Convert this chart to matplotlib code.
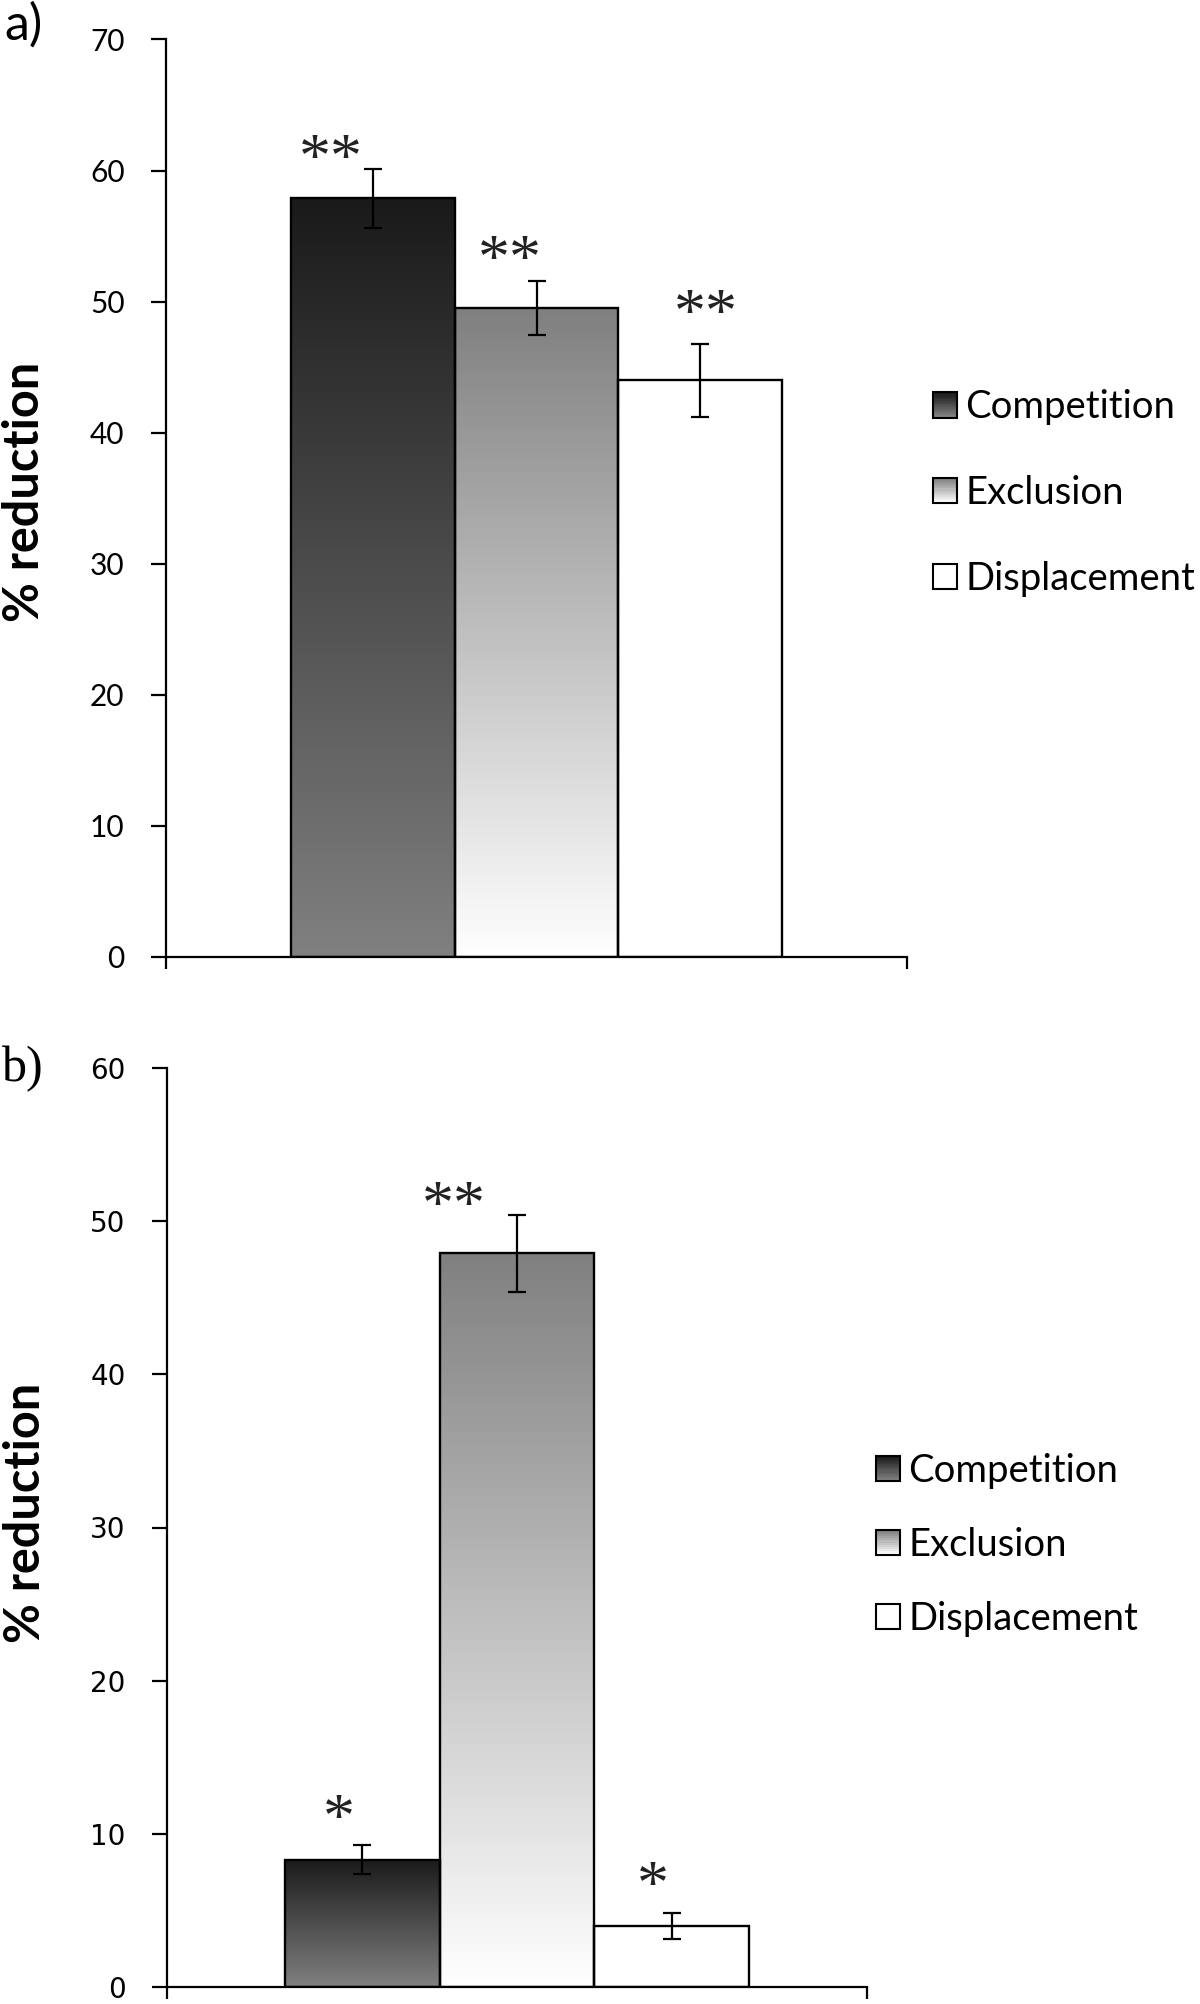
import numpy as np
import matplotlib
matplotlib.use("Agg")
import matplotlib.pyplot as plt
from matplotlib.colors import LinearSegmentedColormap
from matplotlib.patches import Rectangle
from matplotlib.legend_handler import HandlerBase

# ---------------- data ----------------
series = ["Competition", "Exclusion", "Displacement"]

a_values = [57.9, 49.5, 44.0]
a_errors = [2.25, 2.05, 2.8]
a_signif = ["**", "**", "**"]
a_yticks = [0, 10, 20, 30, 40, 50, 60, 70]

b_values = [8.3, 47.9, 4.0]
b_errors = [0.95, 2.5, 0.85]
b_signif = ["*", "**", "*"]
b_yticks = [0, 10, 20, 30, 40, 50, 60]

panel_labels = ["a)", "b)"]
ylabel_text = "% reduction"

# ---------------- style ----------------
W, H = 1200, 2004
DPI = 100
PX = 72.0 / DPI  # points per pixel

gradients = {
    "Competition": ("#1a1a1a", "#808080"),
    "Exclusion": ("#808080", "#ffffff"),
    "Displacement": ("#ffffff", "#ffffff"),
}

# star offsets (px) relative to error-bar top: (dx, dy to star centre)
a_star_off = [(-42, 14), (-27, 25), (6, 34)]
b_star_off = [(-23, 30), (-63, 13), (-19, 31)]

bar_w = 0.221
sans = ["Lato", "DejaVu Sans"]
serif = ["Liberation Serif", "DejaVu Serif"]


class GradHandler(HandlerBase):
    def __init__(self, top, bottom, n=12):
        super().__init__()
        self.top, self.bottom, self.n = top, bottom, n

    def create_artists(self, legend, orig_handle, xdescent, ydescent,
                       width, height, fontsize, trans):
        cmap = LinearSegmentedColormap.from_list("g", [self.top, self.bottom])
        arts = []
        for i in range(self.n):
            frac = i / (self.n - 1)
            y = -ydescent + height * (1 - (i + 1) / self.n)
            arts.append(Rectangle((-xdescent, y), width, height / self.n,
                                  facecolor=cmap(frac), edgecolor="none",
                                  transform=trans))
        arts.append(Rectangle((-xdescent, -ydescent), width, height,
                              facecolor="none", edgecolor="black",
                              linewidth=1.5, transform=trans))
        return arts


def fill_gradient(ax, patch, top, bottom):
    x0, y0 = patch.get_x(), patch.get_y()
    w, h = patch.get_width(), patch.get_height()
    cmap = LinearSegmentedColormap.from_list("g", [top, bottom])
    arr = np.linspace(0, 1, 256).reshape(-1, 1)
    im = ax.imshow(arr, cmap=cmap, vmin=0, vmax=1,
                   extent=[x0, x0 + w, y0, y0 + h], origin="upper",
                   aspect="auto", zorder=2, interpolation="bilinear")
    im.set_clip_path(patch)


def draw_panel(ax, values, errors, signif, yticks, star_off, tick_font,
               tick_size, fig, leg_anchor, leg_spacing):
    n = len(values)
    xs = [0.5 + (i - (n - 1) / 2) * bar_w for i in range(n)]
    bars = ax.bar(xs, values, width=bar_w, facecolor="none",
                  edgecolor="black", linewidth=1.7, zorder=3)
    for patch, name in zip(bars.patches, series):
        top, bottom = gradients[name]
        fill_gradient(ax, patch, top, bottom)
    ax.errorbar(xs, values, yerr=errors, fmt="none", ecolor="black",
                elinewidth=1.6, capsize=6.5, capthick=1.6, zorder=4)
    for x, v, e, s, (dx, dy) in zip(xs, values, errors, signif, star_off):
        ax.annotate(s, xy=(x, v + e), xytext=(dx * PX, dy * PX),
                    textcoords="offset points", ha="center",
                    va="center_baseline", fontsize=46, family=serif,
                    color="#222222", zorder=5)
    ax.set_xlim(0, 1)
    ax.set_ylim(yticks[0], yticks[-1])
    ax.set_yticks(yticks)
    ax.set_yticklabels([str(t) for t in yticks], family=tick_font,
                       fontsize=tick_size)
    ax.set_xticks([0, 1])
    ax.set_xticklabels(["", ""])
    for side in ["top", "right"]:
        ax.spines[side].set_visible(False)
    for side in ["left", "bottom"]:
        ax.spines[side].set_linewidth(1.6)
    ax.tick_params(axis="y", direction="out", length=15 * PX, width=1.6,
                   pad=19)
    ax.tick_params(axis="x", direction="out", length=12 * PX, width=1.6)
    ax.set_facecolor("none")

    proxies = [Rectangle((0, 0), 1, 1) for _ in series]
    hmap = {p: GradHandler(*gradients[nm]) for p, nm in zip(proxies, series)}
    ax.legend(proxies, series, handler_map=hmap, loc="center left",
              bbox_to_anchor=leg_anchor, bbox_transform=fig.transFigure,
              frameon=False, borderpad=0, borderaxespad=0,
              handlelength=0.64, handleheight=0.64, handletextpad=0.2,
              labelspacing=leg_spacing,
              prop={"family": sans, "size": 27.5})


fig = plt.figure(figsize=(W / DPI, H / DPI), dpi=DPI)

ax_a = fig.add_axes([166 / W, 1 - 957 / H, (907 - 166) / W, (957 - 39.5) / H])
ax_b = fig.add_axes([167 / W, 1 - 1987 / H, (867 - 167) / W, (1987 - 1068) / H])

draw_panel(ax_a, a_values, a_errors, a_signif, a_yticks, a_star_off,
           sans, 21.5, fig, (933 / W, 1 - 493 / H), 1.3)
draw_panel(ax_b, b_values, b_errors, b_signif, b_yticks, b_star_off,
           ["DejaVu Sans"], 20, fig, (876 / W, 1 - 1545 / H), 1.0)

fig.text(25 / W, 1 - 492 / H, ylabel_text, rotation=90, ha="center",
         va="center", family=sans, fontweight="bold", fontsize=35)
fig.text(26 / W, 1 - 1513 / H, ylabel_text, rotation=90, ha="center",
         va="center", family=sans, fontweight="bold", fontsize=35)

fig.text(4 / W, 1 - 2 / H, panel_labels[0], ha="left", va="top",
         family=sans, fontsize=36)
fig.text(2 / W, 1 - 1046 / H, panel_labels[1], ha="left", va="top",
         family=serif, fontsize=36)

fig.savefig("out.png", dpi=DPI, facecolor="white")
